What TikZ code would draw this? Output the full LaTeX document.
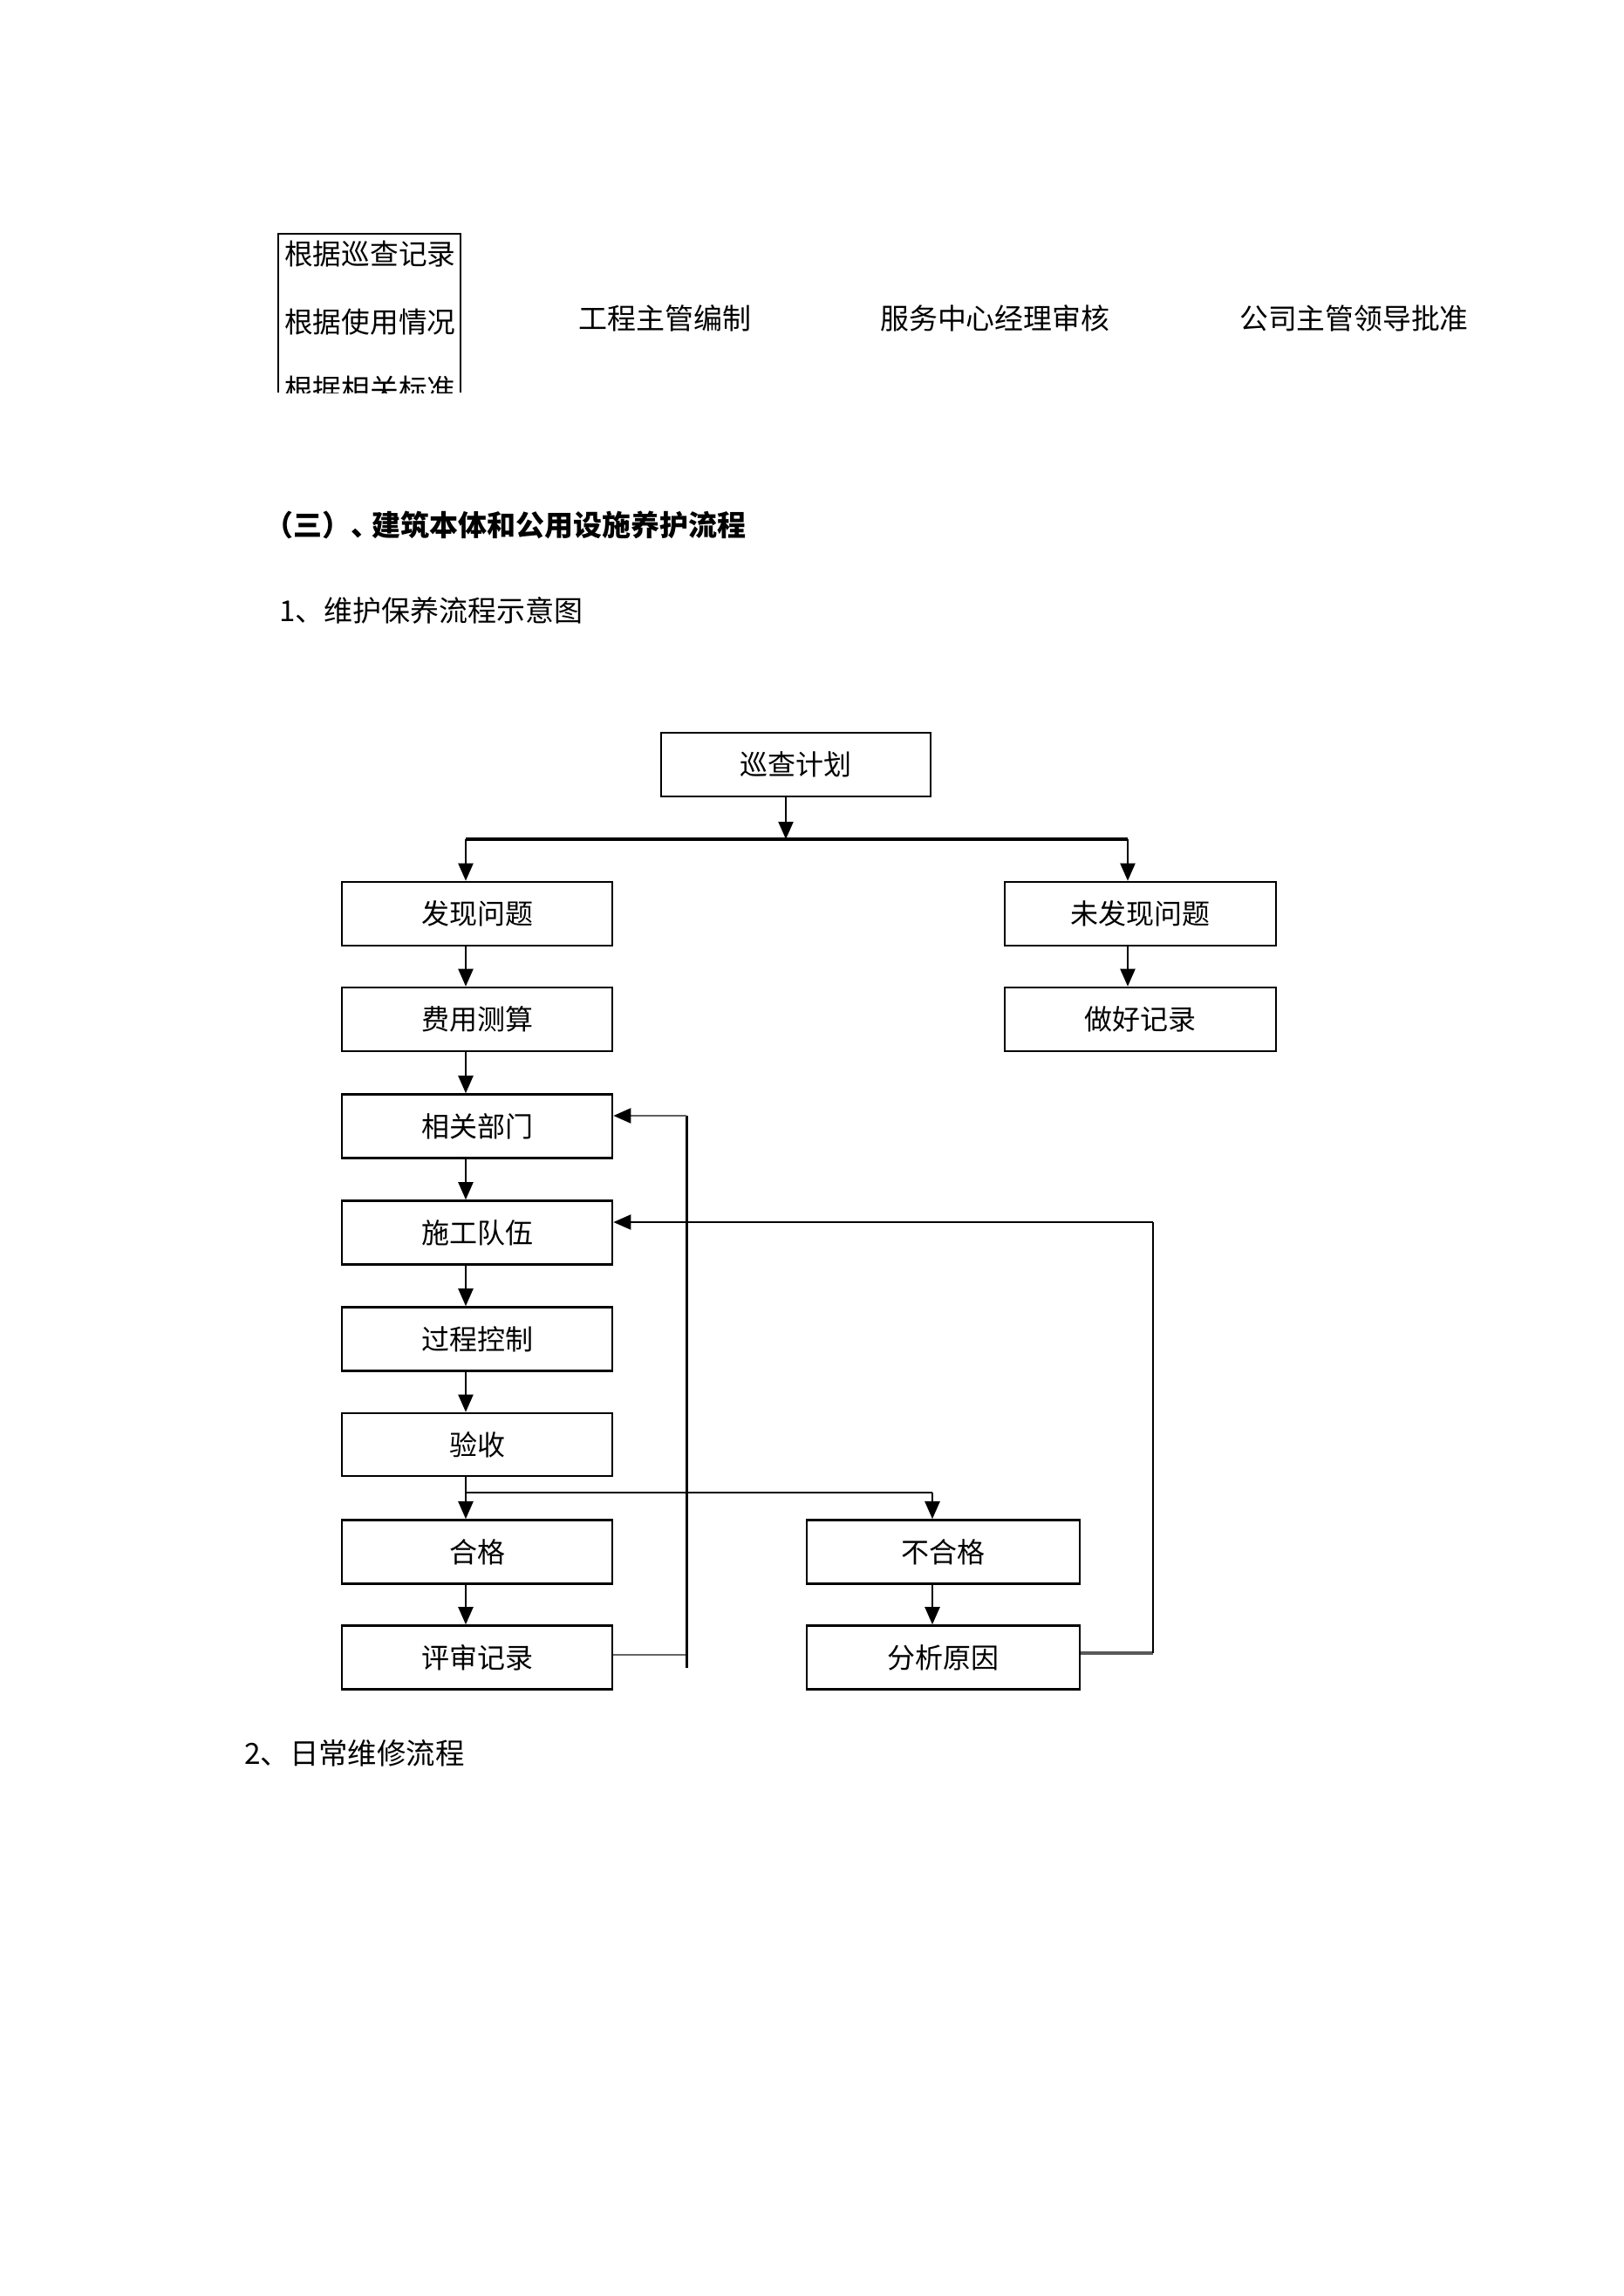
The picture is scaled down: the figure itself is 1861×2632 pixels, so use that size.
\documentclass[tikz,border=0pt]{standalone}
\usepackage{fontspec}
\setmainfont{Noto Sans CJK SC}
\usetikzlibrary{arrows.meta}
\begin{document}
\begin{tikzpicture}[x=1pt,y=-1pt,
  box/.style={draw,line width=2.6pt,minimum width=310pt,minimum height=73pt,inner sep=0pt,font=\fontsize{32}{36}\selectfont},
  arr/.style={line width=2.2pt,-{Triangle[length=20pt,width=17pt]}},
  arrg/.style={line width=2.4pt,draw=gray!75!black,-{Triangle[length=20pt,width=17pt,color=black]}},
  ln/.style={line width=2.2pt},
  txt/.style={inner sep=0pt,anchor=west,font=\fontsize{32.7}{36}\selectfont}]
\useasboundingbox[fill=white] (0,0) rectangle (1861,2632);

% top table fragment
\draw[line width=2pt] (319,450) -- (319,268) -- (528,268) -- (528,450);
\begin{scope}
  \clip (300,269) rectangle (540,450);
  \node[txt] (r1) at (326,291) {根据巡查记录};
  \node[txt] (r2) at (326,369) {根据使用情况};
  \node[txt] (r3) at (326,446) {根据相关标准};
\end{scope}
\node[txt,font=\fontsize{33}{36}\selectfont] (t1) at (663,365) {工程主管编制};
\node[txt,font=\fontsize{32.9}{36}\selectfont] (t2) at (1009,365) {服务中心经理审核};
\node[txt,font=\fontsize{32.8}{36}\selectfont] (t3) at (1421,365) {公司主管领导批准};

% headings
\node[txt,font=\fontsize{33}{38}\selectfont\bfseries] (h1) at (303,602) {\makebox[123pt][l]{（三）、}建筑本体和公用设施养护流程};
\node[txt,font=\fontsize{33}{36}\selectfont] (h2) at (320,700) {1、维护保养流程示意图};
\node[txt,font=\fontsize{33.4}{36}\selectfont] (h3) at (280,2010) {2、日常维修流程};

% boxes
\node[box,minimum width=309pt] (plan) at (912.5,876.5) {巡查计划};
\node[box] (found) at (547,1047.5) {发现问题};
\node[box,minimum width=311pt] (notfound) at (1307.5,1047.5) {未发现问题};
\node[box] (cost) at (547,1168.5) {费用测算};
\node[box,minimum width=311pt] (record) at (1307.5,1168.5) {做好记录};
\node[box] (dept) at (547,1291) {相关部门};
\node[box] (team) at (547,1413) {施工队伍};
\node[box] (ctrl) at (547,1535) {过程控制};
\node[box,minimum height=72pt] (accept) at (547,1656) {验收};
\node[box] (pass) at (547,1779) {合格};
\node[box] (review) at (547,1900) {评审记录};
\node[box,minimum width=313pt] (fail) at (1081.5,1779) {不合格};
\node[box,minimum width=313pt] (analyze) at (1081.5,1900) {分析原因};

% connectors
\coordinate (busL) at (534,962);
\coordinate (busR) at (1293,962);
\coordinate (busM) at (901,962);
\draw[arr] (plan.south -| busM) -- (busM);
\draw[line width=4.5pt] (busL) -- (busR);
\draw[arr] (busL) -- (found.north -| busL);
\draw[arr] (busR) -- (notfound.north -| busR);
\draw[arr] (found.south -| busL) -- (cost.north -| busL);
\draw[arr] (notfound.south -| busR) -- (record.north -| busR);
\draw[arr] (cost.south -| busL) -- (dept.north -| busL);
\draw[arr] (dept.south -| busL) -- (team.north -| busL);
\draw[arr] (team.south -| busL) -- (ctrl.north -| busL);
\draw[arr] (ctrl.south -| busL) -- (accept.north -| busL);
\draw[arr] (accept.south -| busL) -- (pass.north -| busL);
\draw[arr] (pass.south -| busL) -- (review.north -| busL);

\coordinate (split) at (534,1711);
\coordinate (failtop) at (1069,1711);
\draw[ln] (split) -- (failtop);
\draw[arr] (failtop) -- (fail.north -| failtop);
\draw[arr] (fail.south -| failtop) -- (analyze.north -| failtop);

% feedback 1
\coordinate (fb1b) at (787,1897);
\coordinate (fb1e) at (787,1912);
\coordinate (fb1t) at (787,1279);
\draw[line width=2.6pt,gray!80!black] (review.east |- fb1b) -- (fb1b);
\draw[line width=3pt] (fb1e) -- (fb1t);
\draw[arrg] (fb1t) -- (dept.east |- fb1t);

% feedback 2
\coordinate (fb2b) at (1322,1895);
\coordinate (fb2t) at (1322,1401);
\draw[line width=4.5pt,gray!70!black] (analyze.east |- fb2b) -- (fb2b);
\draw[ln] (fb2b) -- (fb2t);
\draw[arr] (fb2t) -- (team.east |- fb2t);
\end{tikzpicture}
\end{document}
